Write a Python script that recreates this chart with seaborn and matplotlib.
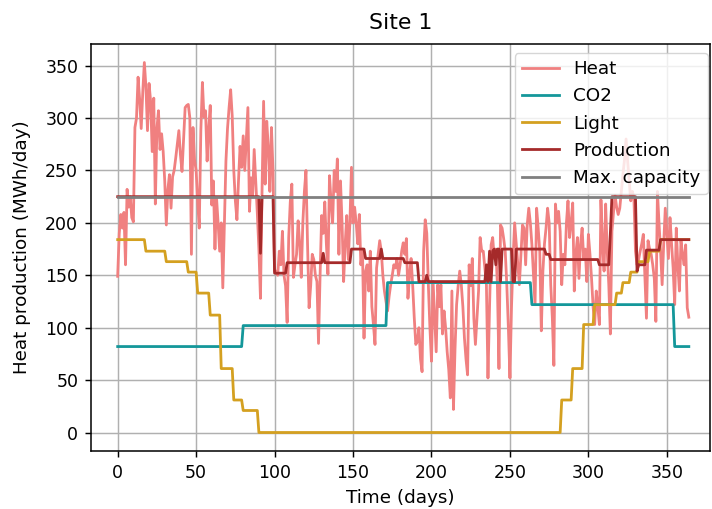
import numpy as np
import pandas as pd
import matplotlib
matplotlib.use("Agg")
import matplotlib.pyplot as plt
import seaborn as sns

# ---- data ----
heat = [
    149, 190, 208, 195, 210, 160, 232, 215, 225, 205,
    201, 291, 300, 339, 318, 290, 325, 353, 330, 288,
    333, 316, 268, 319, 218, 290, 307, 270, 285, 268,
    240, 198, 232, 246, 214, 244, 250, 262, 275, 288,
    265, 249, 280, 310, 312, 313, 300, 170, 291, 260,
    250, 220, 195, 288, 334, 301, 307, 259, 290, 312,
    217, 240, 175, 224, 200, 173, 200, 138, 200, 259,
    290, 310, 327, 302, 250, 221, 203, 240, 273, 253,
    283, 250, 280, 310, 211, 243, 225, 270, 240, 209,
    175, 128, 230, 316, 237, 297, 272, 230, 291, 250,
    154, 154, 150, 173, 160, 192, 150, 140, 105, 186,
    220, 237, 148, 160, 170, 202, 180, 148, 200, 230,
    250, 180, 119, 140, 170, 165, 150, 144, 85, 150,
    207, 190, 220, 180, 151, 245, 220, 200, 250, 230,
    261, 170, 240, 200, 144, 180, 207, 165, 200, 253,
    200, 215, 200, 180, 208, 160, 175, 90, 154, 160,
    135, 173, 120, 103, 84, 157, 170, 183, 173, 150,
    135, 125, 116, 130, 141, 150, 160, 157, 166, 150,
    160, 173, 181, 170, 185, 128, 150, 166, 141, 110,
    84, 87, 100, 70, 58, 173, 203, 190, 141, 100,
    68, 144, 110, 77, 141, 120, 141, 94, 116, 100,
    77, 60, 33, 135, 22, 80, 122, 140, 154, 141,
    120, 90, 70, 55, 160, 140, 166, 109, 84, 110,
    135, 186, 173, 173, 157, 141, 52, 120, 179, 186,
    166, 175, 141, 61, 198, 195, 185, 173, 141, 100,
    52, 120, 166, 200, 180, 160, 141, 170, 198, 195,
    160, 198, 214, 200, 179, 150, 122, 214, 195, 173,
    97, 154, 180, 195, 214, 200, 141, 110, 64, 218,
    200, 211, 192, 141, 170, 160, 200, 221, 186, 200,
    219, 135, 170, 186, 147, 180, 195, 166, 175, 144,
    189, 170, 147, 120, 103, 135, 120, 103, 222, 180,
    154, 218, 173, 141, 94, 192, 210, 226, 215, 208,
    214, 230, 246, 260, 280, 259, 240, 221, 230, 224,
    173, 160, 165, 173, 180, 189, 150, 109, 183, 175,
    170, 160, 147, 106, 230, 200, 173, 141, 180, 214,
    190, 166, 205, 180, 157, 122, 195, 160, 135, 183,
    170, 160, 179, 119, 110,
]

# step series stored as (level, number of days)
co2_levels = [82, 102, 143, 122, 82]
co2_days = [80, 92, 92, 91, 10]

light_levels = [184, 173, 163, 153, 133, 112, 61, 31, 21, 0,
                31, 61, 103, 122, 133, 143, 153, 163, 173, 184]
light_days = [18, 13, 14, 6, 8, 7, 8, 6, 10, 193,
              7, 7, 7, 14, 4, 5, 5, 7, 7, 19]

prod_levels = [225, 171, 225, 152, 162, 171, 162, 175, 166, 175, 166, 162, 144,
               150, 144, 160, 144, 173, 144, 173, 175, 160, 175, 144, 175, 144,
               175, 170, 165, 160, 190, 225, 154, 160, 174, 184]
prod_days = [91, 1, 8, 8, 23, 1, 17, 9, 10, 1, 14, 9, 5,
             1, 37, 1, 1, 1, 1, 1, 1, 1, 2, 1, 7, 2,
             19, 3, 31, 7, 1, 16, 1, 5, 9, 19]

capacity_levels = [225]
capacity_days = [365]

series_names = ["Heat", "CO2", "Light", "Production", "Max. capacity"]
tick_values = [0, 50, 100, 150, 200, 250, 300, 350]

# ---- build table ----
n = len(heat)
days = np.arange(n)


def expand(levels, counts):
    arr = np.repeat(levels, counts).astype(float)
    if len(arr) < n:
        arr = np.concatenate([arr, np.full(n - len(arr), arr[-1])])
    return arr[:n]


df = pd.DataFrame({
    "day": days,
    "Heat": heat,
    "CO2": expand(co2_levels, co2_days),
    "Light": expand(light_levels, light_days),
    "Production": expand(prod_levels, prod_days),
    "Max. capacity": expand(capacity_levels, capacity_days),
})

colors = {
    "Heat": "lightcoral",
    "CO2": "#14979a",
    "Light": "#d4a020",
    "Production": "brown",
    "Max. capacity": "grey",
}

plt.rcParams["font.family"] = ["DejaVu Sans"]
fig = plt.figure(figsize=(7.12, 5.09), dpi=100)
ax = fig.add_axes([91 / 712, 58 / 509, 619 / 712, 407 / 509])

for name in series_names:
    sns.lineplot(data=df, x="day", y=name, ax=ax, color=colors[name],
                 label=name, linewidth=2.0)

ax.set_xlim(-17, 377.5)
ax.set_xticks(tick_values)
ax.set_yticks(tick_values)
ax.grid(True, color="#b0b0b0", linewidth=1.05)
ax.set_axisbelow(True)
ax.tick_params(labelsize=12.5, length=4.6, width=1.05, pad=4.6)
ax.set_xlabel("Time (days)", fontsize=13.2, labelpad=5)
ax.set_ylabel("Heat production (MWh/day)", fontsize=13.2, labelpad=10)
ax.set_title("Site 1", fontsize=15.8, pad=11)
ax.legend(loc="upper right", bbox_to_anchor=(0.9968, 0.978), borderaxespad=0,
          fontsize=13.2, framealpha=0.8)
for s in ax.spines.values():
    s.set_color("black")
    s.set_linewidth(1.1)

fig.savefig("out.png", dpi=100)
